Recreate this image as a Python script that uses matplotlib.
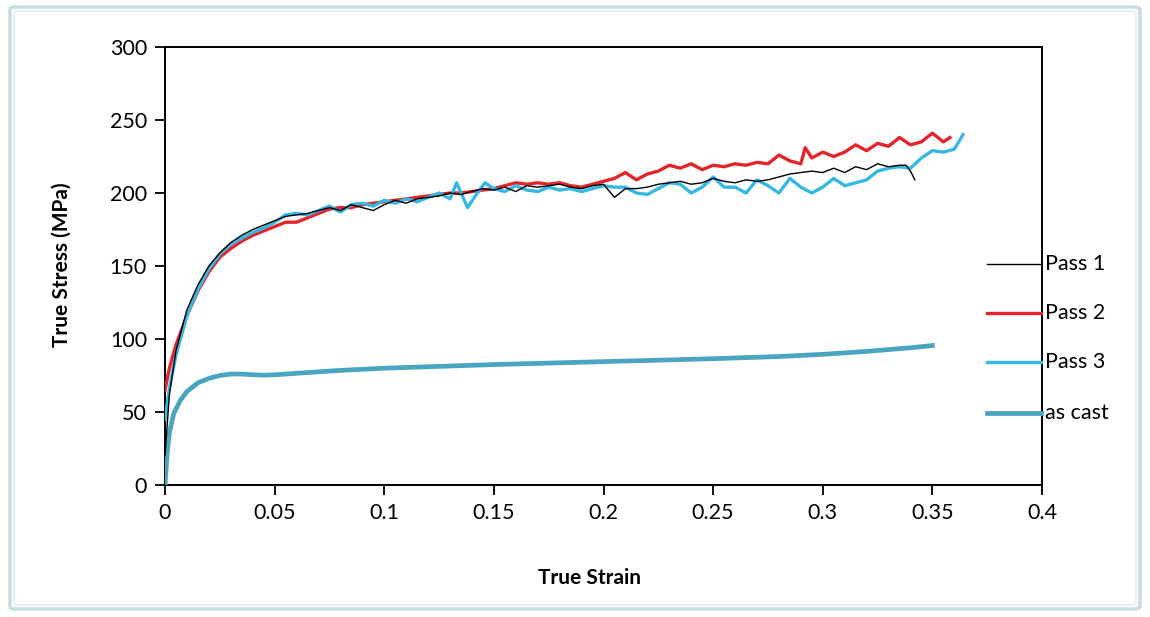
import matplotlib
matplotlib.use("Agg")
import matplotlib.pyplot as plt
from matplotlib.lines import Line2D
from matplotlib.patches import FancyBboxPatch

plt.rcParams['font.family'] = ['Lato', 'DejaVu Sans']

# ---------------- data ----------------
series_names = ["Pass 1", "Pass 2", "Pass 3", "as cast"]

pass1_strain = [0, 0.002, 0.005, 0.01, 0.015, 0.02, 0.025, 0.03, 0.035, 0.04, 0.045,
                0.05, 0.055, 0.06, 0.065, 0.07, 0.075, 0.08, 0.085, 0.09, 0.095,
                0.1, 0.105, 0.11, 0.115, 0.12, 0.125, 0.13, 0.135, 0.14, 0.145,
                0.15, 0.155, 0.16, 0.165, 0.17, 0.175, 0.18, 0.185, 0.19, 0.195,
                0.2, 0.205, 0.21, 0.215, 0.22, 0.225, 0.23, 0.235, 0.24, 0.245,
                0.25, 0.255, 0.26, 0.265, 0.27, 0.275, 0.28, 0.285, 0.29, 0.295,
                0.3, 0.305, 0.31, 0.315, 0.32, 0.325, 0.33, 0.335, 0.338, 0.340, 0.342]
pass1_stress = [20, 62, 92, 120, 137, 150, 159, 166, 171, 175, 178,
                181, 184, 185, 186, 188, 190, 188, 192, 190, 188,
                192, 195, 193, 196, 197, 198, 200, 199, 201, 203,
                202, 204, 201, 205, 204, 205, 206, 204, 203, 205,
                206, 197, 203, 203, 204, 206, 207, 208, 206, 207,
                210, 208, 207, 209, 208, 209, 211, 213, 214, 215,
                214, 217, 214, 218, 216, 220, 218, 219, 219, 215, 209]

pass2_strain = [0, 0.002, 0.005, 0.01, 0.015, 0.02, 0.025, 0.03, 0.035, 0.04, 0.045,
                0.05, 0.055, 0.06, 0.065, 0.07, 0.075, 0.08, 0.085, 0.09, 0.095,
                0.1, 0.105, 0.11, 0.115, 0.12, 0.125, 0.13, 0.135, 0.14, 0.145,
                0.15, 0.155, 0.16, 0.165, 0.17, 0.175, 0.18, 0.185, 0.19, 0.195,
                0.2, 0.205, 0.21, 0.215, 0.22, 0.225, 0.23, 0.235, 0.24, 0.245,
                0.25, 0.255, 0.26, 0.265, 0.27, 0.275, 0.28, 0.285, 0.29, 0.292, 0.295,
                0.3, 0.305, 0.31, 0.315, 0.32, 0.325, 0.33, 0.335, 0.34, 0.345,
                0.35, 0.355, 0.358]
pass2_stress = [65, 80, 96, 116, 133, 146, 156, 162, 167, 171, 174,
                177, 180, 180, 183, 186, 189, 190, 190, 192, 193,
                194, 195, 196, 197, 198, 199, 200, 200, 201, 202,
                203, 205, 207, 206, 207, 206, 207, 205, 204, 206,
                208, 210, 214, 209, 213, 215, 219, 217, 220, 216,
                219, 218, 220, 219, 221, 220, 226, 222, 220, 231, 224,
                228, 225, 228, 233, 229, 234, 232, 238, 233, 235,
                241, 235, 238]

pass3_strain = [0, 0.002, 0.005, 0.01, 0.015, 0.02, 0.025, 0.03, 0.035, 0.04, 0.045,
                0.05, 0.055, 0.06, 0.065, 0.07, 0.075, 0.08, 0.085, 0.09, 0.095,
                0.1, 0.105, 0.11, 0.115, 0.12, 0.125, 0.13, 0.133, 0.138, 0.142, 0.146,
                0.15, 0.155, 0.16, 0.165, 0.17, 0.175, 0.18, 0.185, 0.19, 0.195,
                0.2, 0.205, 0.21, 0.215, 0.22, 0.225, 0.23, 0.235, 0.24, 0.245,
                0.25, 0.255, 0.26, 0.265, 0.27, 0.275, 0.28, 0.285, 0.29, 0.295,
                0.3, 0.305, 0.31, 0.315, 0.32, 0.325, 0.33, 0.335, 0.34, 0.345,
                0.35, 0.355, 0.36, 0.364]
pass3_stress = [45, 66, 89, 116, 134, 148, 158, 165, 169, 173, 176,
                180, 185, 186, 185, 188, 191, 187, 192, 193, 191,
                195, 193, 196, 194, 197, 200, 196, 207, 190, 199, 207,
                203, 201, 205, 202, 201, 204, 202, 203, 201, 203,
                205, 204, 204, 200, 199, 203, 207, 206, 200, 204,
                211, 204, 204, 200, 209, 205, 200, 210, 204, 200,
                204, 210, 205, 207, 209, 215, 217, 218, 217, 224,
                229, 228, 230, 240]

ascast_strain = [0, 0.001, 0.002, 0.004, 0.007, 0.01, 0.015, 0.02, 0.025, 0.03,
                 0.035, 0.04, 0.045, 0.05, 0.06, 0.08, 0.1, 0.15, 0.2, 0.25,
                 0.28, 0.3, 0.32, 0.34, 0.35]
ascast_stress = [0, 22, 36, 49, 58, 64, 70, 73, 75, 76,
                 76, 75.5, 75.2, 75.5, 76.5, 78.5, 80, 82.5, 84.5, 86.5,
                 88, 89.5, 91.5, 94, 95.5]

x_ticks = [0, 0.05, 0.1, 0.15, 0.2, 0.25, 0.3, 0.35, 0.4]
x_tick_labels = ["0", "0.05", "0.1", "0.15", "0.2", "0.25", "0.3", "0.35", "0.4"]
y_ticks = [0, 50, 100, 150, 200, 250, 300]
y_tick_labels = ["0", "50", "100", "150", "200", "250", "300"]

# ---------------- style ----------------
colors = ["#000000", "#e3242b", "#36b8e3", "#4aa5c0"]
widths = [1.0, 2.4, 2.4, 3.4]

W, H = 1150, 617
fig = plt.figure(figsize=(W / 100, H / 100), dpi=100)
ax = fig.add_axes([165 / W, 1 - 485 / H, (1042 - 165) / W, (485 - 47) / H])

data = [(pass1_strain, pass1_stress), (pass2_strain, pass2_stress),
        (pass3_strain, pass3_stress), (ascast_strain, ascast_stress)]
order = [3, 1, 2, 0]
for i in order:
    xs, ys = data[i]
    ax.plot(xs, ys, color=colors[i], lw=widths[i], solid_joinstyle='round',
            zorder=3 + (1 if i == 0 else 0))

ax.set_xlim(0, 0.4)
ax.set_ylim(0, 300)
ax.set_xticks(x_ticks)
ax.set_xticklabels(x_tick_labels)
ax.set_yticks(y_ticks)
ax.set_yticklabels(y_tick_labels)
ax.tick_params(direction='out', length=7, width=1.3, labelsize=15.5,
               colors='#000000', pad=6)
for s in ax.spines.values():
    s.set_linewidth(1.4)
    s.set_color('#000000')

fig.text(590 / W, 1 - 578 / H, "True Strain", ha='center', va='center',
         fontsize=15, fontweight='bold')
fig.text(62 / W, 1 - 265 / H, "True Stress (MPa)", ha='center', va='center',
         rotation=90, fontsize=15, fontweight='bold')

# legend (Excel style, lines crossing the right border)
leg_y = [264, 313, 362, 413]
for i, name in enumerate(series_names):
    yy = 1 - leg_y[i] / H
    fig.add_artist(Line2D([987 / W, 1041 / W], [yy, yy], color=colors[i],
                          lw=widths[i], transform=fig.transFigure))
    fig.text(1045 / W, yy, name, ha='left', va='center', fontsize=15.5)

# chart frame
frame = FancyBboxPatch((10 / W, 8 / H), (1140 - 10) / W, (610 - 8) / H,
                       boxstyle="round,pad=0,rounding_size=0.004",
                       transform=fig.transFigure, fill=False,
                       edgecolor='#c8dce6', lw=2.5)
fig.add_artist(frame)
frame2 = FancyBboxPatch((14 / W, 12 / H), (1136 - 14) / W, (606 - 12) / H,
                        boxstyle="round,pad=0,rounding_size=0.004",
                        transform=fig.transFigure, fill=False,
                        edgecolor='#e4eef3', lw=1.2)
fig.add_artist(frame2)

fig.savefig("out.png", dpi=100, facecolor='white')
